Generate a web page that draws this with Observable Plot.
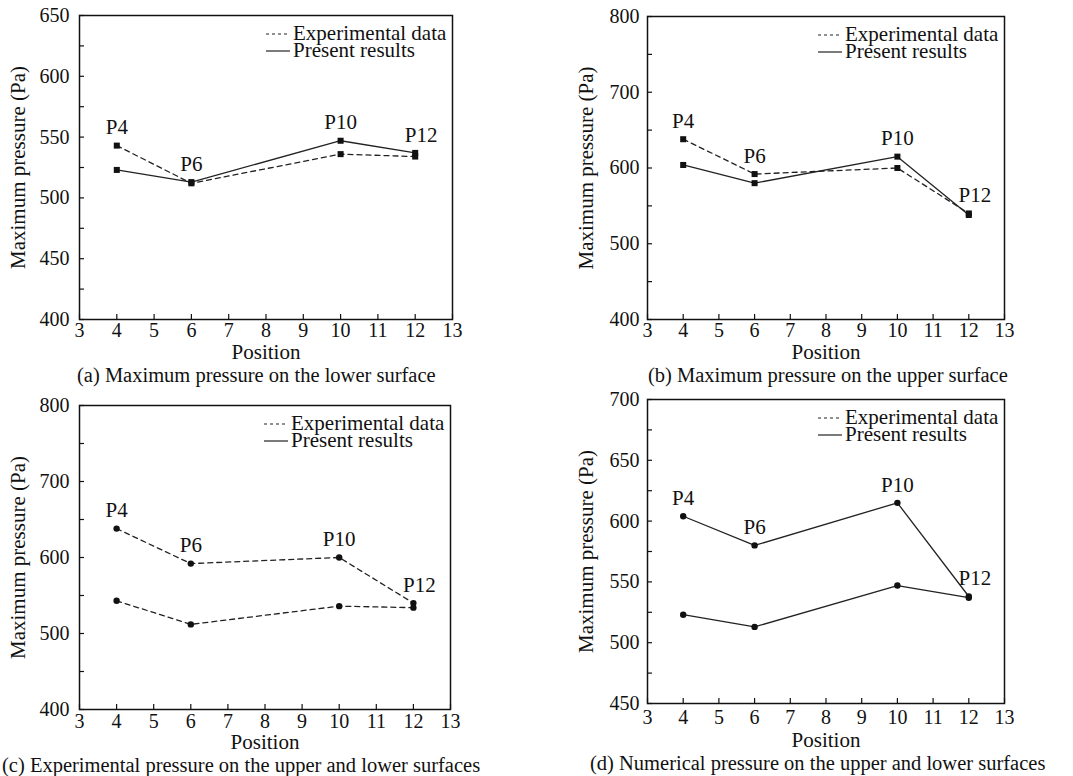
<!DOCTYPE html>
<html><head><meta charset="utf-8">
<script src="https://cdn.jsdelivr.net/npm/d3@7"></script>
<script src="https://cdn.jsdelivr.net/npm/@observablehq/plot@0.6"></script>
<style>
html,body{margin:0;padding:0;background:#fff;}
body{width:1073px;height:776px;overflow:hidden;position:relative;font-family:"Liberation Serif",serif;color:#111;}
.panel{position:absolute;}
.cap{position:absolute;font-size:20.5px;white-space:nowrap;color:#111;line-height:22px;}
</style></head><body>
<script>
// ---- data ----
const positions = [4, 6, 10, 12];
const pointLabels = ["P4", "P6", "P10", "P12"];
const expLower = [543, 512, 536, 534];
const numLower = [523, 513, 547, 537];
const expUpper = [638, 592, 600, 540];
const numUpper = [604, 580, 615, 538];
const xTicks = [3, 4, 5, 6, 7, 8, 9, 10, 11, 12, 13];
const yTicksA = [400, 450, 500, 550, 600, 650];
const yTicksB = [400, 500, 600, 700, 800];
const yTicksC = [400, 500, 600, 700, 800];
const yTicksD = [450, 500, 550, 600, 650, 700];
const legendLabels = ["Experimental data", "Present results"];
const captions = [
  "(a) Maximum pressure on the lower surface",
  "(b) Maximum pressure on the upper surface",
  "(c) Experimental pressure on the upper and lower surfaces",
  "(d) Numerical pressure on the upper and lower surfaces"
];
const xLabel = "Position";
const yLabel = "Maximum pressure (Pa)";
const FONT = "Liberation Serif";

const panels = [
  {left:0, top:0, width:530, mL:79, mR:78, mT:15, fH:304, yTicks:yTicksA,
   series:[{v:expLower, dash:true}, {v:numLower, dash:false}], symbol:"square",
   cap:captions[0], capLeft:77, capTop:364, yPad:10, xPad:3, posDy:33},
  {left:530, top:0, width:543, mL:117, mR:69, mT:16, fH:303, yTicks:yTicksB,
   series:[{v:expUpper, dash:true}, {v:numUpper, dash:false}], symbol:"square",
   cap:captions[1], capLeft:648, capTop:364, yPad:8, xPad:3, posDy:33},
  {left:0, top:390, width:530, mL:79, mR:80, mT:15, fH:304, yTicks:yTicksC,
   series:[{v:expUpper, dash:true}, {v:expLower, dash:true}], symbol:"circle",
   cap:captions[2], capLeft:2, capTop:754, yPad:10, xPad:4, posDy:33},
  {left:530, top:390, width:543, mL:117, mR:69, mT:9, fH:304, yTicks:yTicksD,
   series:[{v:numUpper, dash:false}, {v:numLower, dash:false}], symbol:"circle",
   cap:captions[3], capLeft:590, capTop:752, yPad:8, xPad:6, posDy:37}
];

function legendMark(index, scales, values, dims) {
  const right = dims.width - dims.marginRight;
  const g = d3.create("svg:g").attr("font-size", 21).attr("font-family", FONT).attr("fill", "#111").attr("text-anchor", "start");
  legendLabels.forEach((lab, i) => {
    const y = dims.marginTop + 18 + i * 17;
    g.append("line")
      .attr("x1", right - 186).attr("x2", right - 162)
      .attr("y1", y + 1).attr("y2", y + 1)
      .attr("stroke", "#222").attr("stroke-width", 1.2)
      .attr("stroke-dasharray", i === 0 ? "3,3" : null);
    g.append("text").attr("x", right - 159).attr("y", y).attr("dy", "0.32em").text(lab);
  });
  return g.node();
}

panels.forEach(p => {
  const height = p.mT + p.fH + 50;
  const yDomain = [p.yTicks[0], p.yTicks[p.yTicks.length - 1]];
  const step = p.yTicks[1] - p.yTicks[0];
  const yMinor = p.yTicks.slice(0, -1).map(t => t + step / 2);
  const fW = p.width - p.mL - p.mR;
  const marks = [];
  marks.push(Plot.frame({stroke: "#111", strokeWidth: 1.5}));
  marks.push(Plot.tickX(xTicks, {x: d => d, insetTop: p.fH - 5, stroke: "#111", strokeWidth: 1.2}));
  marks.push(Plot.tickY(p.yTicks.concat(yMinor), {y: d => d, insetRight: fW - 5, stroke: "#111", strokeWidth: 1.2}));
  marks.push(Plot.axisX({ticks: xTicks, tickSize: 0, tickPadding: p.xPad, tickFormat: d => String(d), label: null, fontSize: 20, fontFamily: FONT}));
  marks.push(Plot.axisY({ticks: p.yTicks, tickSize: 0, tickPadding: p.yPad, tickFormat: d => String(d), label: null, fontSize: 20, fontFamily: FONT}));
  marks.push(Plot.text([xLabel], {frameAnchor: "bottom", lineAnchor: "middle", textAnchor: "middle", dy: p.posDy, fontSize: 21, fontFamily: FONT, fill: "#111"}));
  marks.push(Plot.text([yLabel], {frameAnchor: "left", textAnchor: "middle", lineAnchor: "middle", rotate: -90, dx: -61, fontSize: 21, fontFamily: FONT, fill: "#111"}));
  p.series.forEach(s => {
    const rows = positions.map((x, i) => ({pos: x, value: s.v[i]}));
    marks.push(Plot.line(rows, {x: "pos", y: "value", stroke: "#222", strokeWidth: 1.3,
      strokeDasharray: s.dash ? "5,4" : null}));
    marks.push(Plot.dot(rows, {x: "pos", y: "value", symbol: p.symbol,
      r: p.symbol === "square" ? 3.4 : 3.2, fill: "#111", stroke: "none"}));
  });
  const labelRows = positions.map((x, i) => ({pos: x, label: pointLabels[i],
    value: Math.max(...p.series.map(s => s.v[i]))}));
  marks.push(Plot.text(labelRows.filter(d => d.label !== "P12"), {x: "pos", y: "value", text: "label", dy: -18, fontSize: 21, fontFamily: FONT, fill: "#111"}));
  marks.push(Plot.text(labelRows.filter(d => d.label === "P12"), {x: "pos", y: "value", text: "label", dx: 6, dy: -18, fontSize: 21, fontFamily: FONT, fill: "#111"}));
  marks.push(legendMark);

  const chart = Plot.plot({
    width: p.width, height,
    marginLeft: p.mL, marginRight: p.mR, marginTop: p.mT, marginBottom: height - p.mT - p.fH,
    x: {domain: [3, 13]},
    y: {domain: yDomain},
    style: {fontSize: "20px", color: "#111", background: "transparent", overflow: "visible"},
    marks
  });
  chart.setAttribute("font-family", FONT);
  const div = document.createElement("div");
  div.className = "panel";
  div.style.left = p.left + "px";
  div.style.top = p.top + "px";
  div.appendChild(chart);
  document.body.appendChild(div);
  const cap = document.createElement("div");
  cap.className = "cap";
  cap.style.left = p.capLeft + "px";
  cap.style.top = p.capTop + "px";
  cap.textContent = p.cap;
  document.body.appendChild(cap);
});
</script>
</body></html>
